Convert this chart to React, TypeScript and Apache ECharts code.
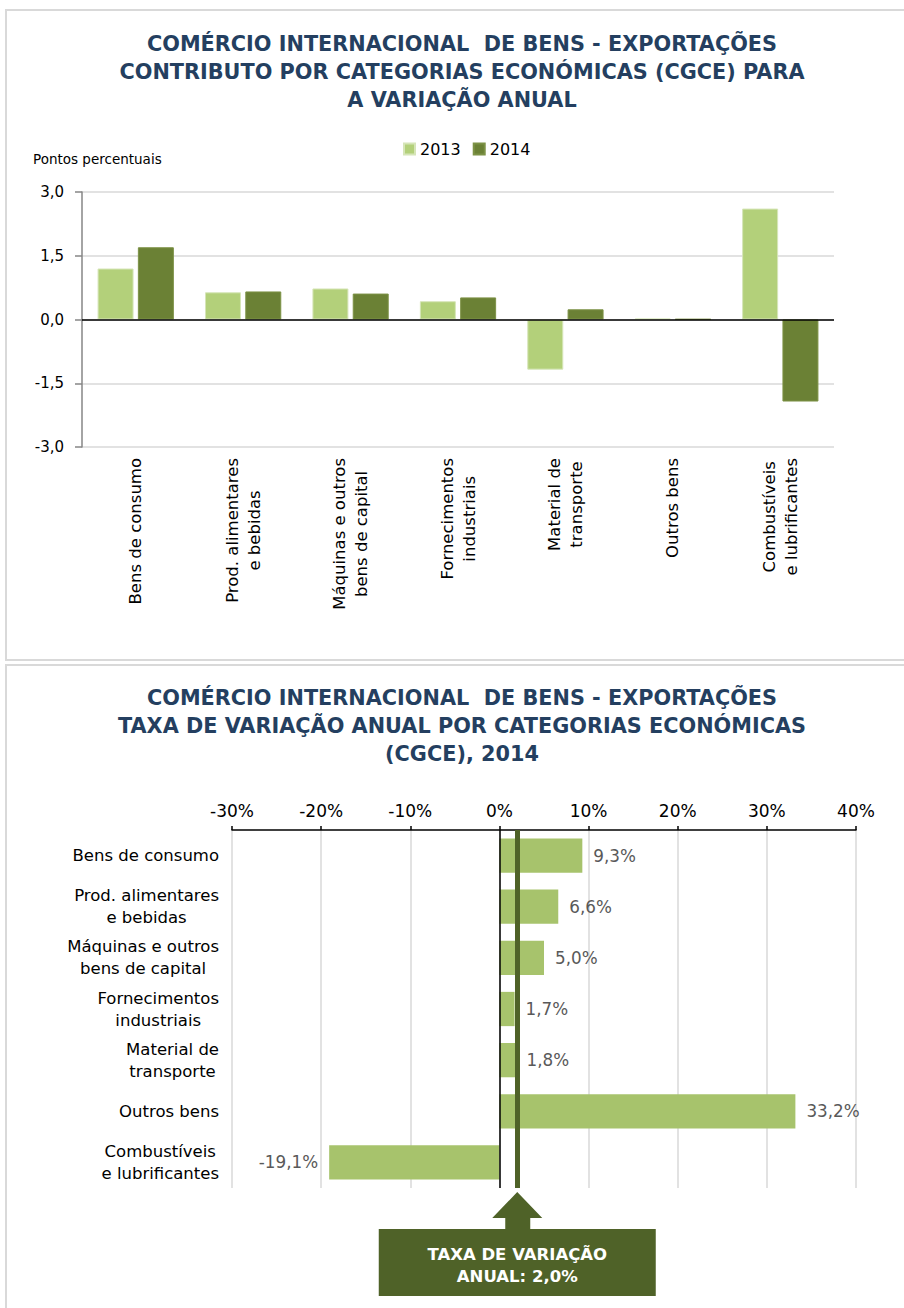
import React, { useEffect, useRef } from 'react';
import * as echarts from 'echarts';

const FONT = "'DejaVu Sans', Verdana, sans-serif";

const topTitle =
  'COMÉRCIO INTERNACIONAL  DE BENS - EXPORTAÇÕES\nCONTRIBUTO POR CATEGORIAS ECONÓMICAS (CGCE) PARA\nA VARIAÇÃO ANUAL';
const bottomTitle =
  'COMÉRCIO INTERNACIONAL  DE BENS - EXPORTAÇÕES\nTAXA DE VARIAÇÃO ANUAL POR CATEGORIAS ECONÓMICAS\n(CGCE), 2014';
const unitLabel = 'Pontos percentuais';

const categories = [
  'Bens de consumo',
  'Prod. alimentares\ne bebidas',
  'Máquinas e outros\nbens de capital',
  'Fornecimentos\nindustriais',
  'Material de\ntransporte',
  'Outros bens',
  'Combustíveis\ne lubrificantes',
];

const seriesNames = ['2013', '2014'];
const contrib2013 = [1.2, 0.64, 0.73, 0.43, -1.18, 0.02, 2.61];
const contrib2014 = [1.7, 0.66, 0.61, 0.52, 0.24, 0.01, -1.93];
const contribAxis = { min: -3, max: 3, interval: 1.5 };

const growth2014 = [9.3, 6.6, 5.0, 1.7, 1.8, 33.2, -19.1];
const growthAxis = { min: -30, max: 40, interval: 10 };
const annualRate = 2.0;
const annualLabel = 'TAXA DE VARIAÇÃO\nANUAL: 2,0%';

const C2013 = '#b3d07a';
const C2014 = '#6b8135';
const CBAR = '#a7c36c';
const CDARK = '#4f6228';
const TITLE_COLOR = '#243f60';

const richLines = (v: string) =>
  v
    .split('\n')
    .map((l) => `{c|${l}}`)
    .join('\n');

export default function App() {
  const ref = useRef<HTMLDivElement>(null);

  useEffect(() => {
    document.body.style.margin = '0';
    if (!ref.current) return;
    const chart = echarts.init(ref.current, null, { renderer: 'svg' });

    const titleStyle = {
      fontFamily: FONT,
      fontWeight: 'bold' as const,
      fontSize: 20.8,
      color: TITLE_COLOR,
      lineHeight: 28,
    };

    const option: any = {
      animation: false,
      backgroundColor: '#ffffff',
      title: [
        { text: topTitle, left: 462, top: 30, textAlign: 'center', padding: 0, textStyle: titleStyle },
        { text: bottomTitle, left: 462, top: 684, textAlign: 'center', padding: 0, textStyle: titleStyle },
      ],
      legend: {
        data: seriesNames,
        left: 398,
        top: 136,
        icon: 'rect',
        itemWidth: 11,
        itemHeight: 11,
        itemGap: 12,
        textStyle: { fontFamily: FONT, fontSize: 16, color: '#000' },
      },
      grid: [
        { left: 82, top: 192, width: 752, height: 255, outerBoundsMode: 'none' },
        { left: 232, top: 830, width: 624, height: 358, outerBoundsMode: 'none' },
      ],
      xAxis: [
        {
          type: 'category',
          gridIndex: 0,
          data: categories,
          axisLine: { show: false, onZero: false },
          axisTick: { show: false },
          axisLabel: {
            interval: 0,
            rotate: 90,
            margin: 11,
            fontFamily: FONT,
            fontSize: 16.5,
            color: '#000',
            formatter: richLines,
            rich: { c: { align: 'center', fontFamily: FONT, fontSize: 16.5, color: '#000', lineHeight: 22 } },
          },
          splitLine: { show: false },
        },
        {
          type: 'value',
          gridIndex: 1,
          position: 'top',
          min: growthAxis.min,
          max: growthAxis.max,
          interval: growthAxis.interval,
          axisLine: { show: true, lineStyle: { color: '#000', width: 1.5 } },
          axisTick: { show: true, length: 4, lineStyle: { color: '#000', width: 1.5 } },
          axisLabel: {
            margin: 11,
            fontFamily: FONT,
            fontSize: 17,
            color: '#000',
            formatter: (v: number) => `${v}%`,
          },
          splitLine: { show: true, lineStyle: { color: '#d9d9d9', width: 1.5 } },
        },
      ],
      yAxis: [
        {
          type: 'value',
          gridIndex: 0,
          min: contribAxis.min,
          max: contribAxis.max,
          interval: contribAxis.interval,
          axisLine: { show: true, lineStyle: { color: '#868686', width: 1.5 } },
          axisTick: { show: true, length: 7, lineStyle: { color: '#868686', width: 1.5 } },
          axisLabel: {
            margin: 18,
            fontFamily: FONT,
            fontSize: 15,
            color: '#000',
            formatter: (v: number) => v.toFixed(1).replace('.', ','),
          },
          splitLine: { show: true, lineStyle: { color: '#d9d9d9', width: 1.5 } },
        },
        {
          type: 'category',
          gridIndex: 1,
          inverse: true,
          data: categories,
          axisLine: { show: false, onZero: false },
          axisTick: { show: false },
          axisLabel: {
            interval: 0,
            margin: 13,
            fontFamily: FONT,
            fontSize: 16.5,
            color: '#000',
            formatter: richLines,
            rich: { c: { align: 'center', fontFamily: FONT, fontSize: 16.5, color: '#000', lineHeight: 22 } },
          },
        },
      ],
      series: [
        {
          name: seriesNames[0],
          type: 'bar',
          xAxisIndex: 0,
          yAxisIndex: 0,
          data: contrib2013,
          barGap: '12%',
          barCategoryGap: '29%',
          itemStyle: { color: C2013, borderColor: '#d6e5b8', borderWidth: 1 },
          markLine: {
            silent: true,
            symbol: 'none',
            label: { show: false },
            lineStyle: { color: '#000', width: 1.5, type: 'solid' },
            data: [{ yAxis: 0 }],
          },
        },
        {
          name: seriesNames[1],
          type: 'bar',
          xAxisIndex: 0,
          yAxisIndex: 0,
          data: contrib2014,
          barGap: '12%',
          barCategoryGap: '29%',
          itemStyle: { color: C2014, borderColor: '#7d9246', borderWidth: 1 },
        },
        {
          name: 'Taxa de variação 2014',
          type: 'bar',
          xAxisIndex: 1,
          yAxisIndex: 1,
          barCategoryGap: '33%',
          data: growth2014.map((v) => ({
            value: v,
            label: { position: v < 0 ? 'left' : 'right' },
          })),
          itemStyle: { color: CBAR },
          label: {
            show: true,
            distance: 11,
            fontFamily: FONT,
            fontSize: 16.8,
            color: '#595959',
            formatter: (p: any) => `${Number(p.value).toFixed(1).replace('.', ',')}%`,
          },
          markLine: {
            silent: true,
            symbol: 'none',
            label: { show: false },
            data: [
              { xAxis: 0, lineStyle: { color: '#000', width: 1.5, type: 'solid' } },
              { xAxis: annualRate, lineStyle: { color: CDARK, width: 5, type: 'solid' } },
            ],
          },
        },
      ],
    };

    chart.setOption(option);

    const px = chart.convertToPixel({ xAxisIndex: 1 } as any, annualRate) as number;
    const tipY = 1192;
    const baseY = 1218;
    const boxTop = 1229;
    const boxH = 67;
    const boxW = 277;

    chart.setOption({
      graphic: [
        {
          type: 'rect',
          silent: true,
          shape: { x: 6, y: 10, width: 920, height: 650 },
          style: { fill: 'none', stroke: '#d9d9d9', lineWidth: 2 },
          z: -1,
        },
        {
          type: 'rect',
          silent: true,
          shape: { x: 6, y: 665, width: 920, height: 700 },
          style: { fill: 'none', stroke: '#d9d9d9', lineWidth: 2 },
          z: -1,
        },
        {
          type: 'text',
          x: 33,
          y: 159,
          style: {
            text: unitLabel,
            fontFamily: FONT,
            fontSize: 13.5,
            fill: '#000',
            verticalAlign: 'middle',
            align: 'left',
          },
        },
        {
          type: 'polygon',
          shape: {
            points: [
              [px, tipY],
              [px + 25, baseY],
              [px + 13, baseY],
              [px + 13, boxTop + 1],
              [px - 12, boxTop + 1],
              [px - 12, baseY],
              [px - 25, baseY],
            ],
          },
          style: { fill: CDARK },
        },
        {
          type: 'rect',
          shape: { x: px - boxW / 2, y: boxTop, width: boxW, height: boxH },
          style: { fill: CDARK },
        },
        {
          type: 'text',
          x: px,
          y: boxTop + boxH / 2 + 3,
          style: {
            text: annualLabel,
            fontFamily: FONT,
            fontWeight: 'bold',
            fontSize: 16.5,
            lineHeight: 22,
            fill: '#ffffff',
            align: 'center',
            verticalAlign: 'middle',
          },
        },
      ],
    });

    return () => {
      chart.dispose();
    };
  }, []);

  return <div ref={ref} style={{ width: 904, height: 1308 }} />;
}
